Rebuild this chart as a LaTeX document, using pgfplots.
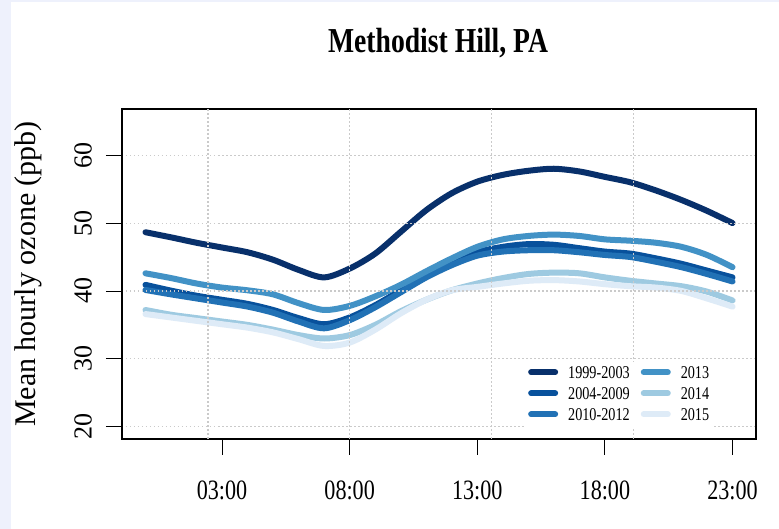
\documentclass[border=0pt]{standalone}
\usepackage{fontspec}
\setmainfont{Liberation Serif}
\newfontfamily\condserif{Liberation Serif}[FakeStretch=0.79]
\usepackage{pgfplots}
\usepackage{pgfplotstable}
\pgfplotsset{compat=1.18}
\definecolor{bgl}{HTML}{EEF1FC}
\definecolor{gridgray}{HTML}{CACACA}
\definecolor{ca}{HTML}{08306B}
\definecolor{cb}{HTML}{08519C}
\definecolor{cc}{HTML}{2171B5}
\definecolor{cd}{HTML}{4292C6}
\definecolor{ce}{HTML}{9ECAE1}
\definecolor{cf}{HTML}{DEEBF7}
\pgfplotstableread{
h a b c d e f
0 48.65 40.9 40.15 42.6 37.2 36.6
1 47.9 40.05 39.5 41.9 36.5 36.1
2 47.1 39.3 38.9 41.1 36.0 35.6
3 46.4 38.7 38.3 40.5 35.5 35.1
4 45.7 38.1 37.7 40.1 35.0 34.6
5 44.6 37.2 36.8 39.5 34.3 33.9
6 43.1 36.0 35.5 38.2 33.5 32.9
7 42.0 35.1 34.5 37.2 33.0 31.9
8 43.3 36.1 35.7 37.8 33.5 32.4
9 45.5 37.9 37.6 39.2 35.0 34.3
10 48.7 40.1 39.8 40.9 37.0 36.7
11 51.9 42.3 42.0 42.9 38.7 38.7
12 54.4 44.1 43.8 44.8 40.1 40.1
13 56.1 45.7 45.2 46.5 41.1 40.6
14 57.1 46.5 45.8 47.6 41.9 41.1
15 57.7 46.9 46.0 48.1 42.5 41.5
16 58.0 46.8 46.0 48.3 42.7 41.6
17 57.6 46.3 45.7 48.1 42.6 41.4
18 56.8 45.8 45.3 47.6 42.0 41.0
19 56.0 45.5 45.0 47.4 41.5 40.7
20 54.8 44.8 44.3 47.1 41.1 40.5
21 53.4 44.0 43.5 46.5 40.7 40.0
22 51.8 43.0 42.5 45.3 39.9 38.9
23 50.0 42.0 41.4 43.5 38.6 37.7
}\ozone
\begin{document}
\begin{tikzpicture}[x=1pt,y=1pt]
\fill[bgl] (-122,-90) rectangle (657,439);
\fill[white] (-111,-90) rectangle (657,437);
\node[anchor=base, font=\condserif\bfseries\fontsize{35}{40}\selectfont] at (316,386) {Methodist Hill, PA};
\begin{axis}[
  at={(0,0)}, anchor=south west,
  scale only axis, width=634pt, height=330pt,
  xmin=-0.92, xmax=23.92, ymin=18.2, ymax=66.8,
  axis on top,
  xtick={3,8,13,18,23},
  xticklabels={03:00,08:00,13:00,18:00,23:00},
  ytick={20,30,40,50,60},
  xtick pos=bottom, ytick pos=left,
  tick align=outside,
  major tick length=16pt,
  tick style={black, line width=0.9pt},
  axis line style={black, line width=1.2pt},
  ymajorgrids=true,
  major grid style={gridgray, line width=1.1pt, dash pattern=on 1.5pt off 2.5pt},
  extra x ticks={2.45,7.98,13.57,19.13},
  extra x tick labels={},
  extra x tick style={grid=major, major tick length=0pt},
  x tick label style={font=\condserif\fontsize{28}{30}\selectfont, anchor=north, inner sep=0pt},
  xticklabel shift=26pt,
  y tick label style={font=\fontsize{26}{28}\selectfont, rotate=90, anchor=south, inner sep=0pt},
  yticklabel shift=14pt,
  /pgf/number format/assume math mode=true,
  ylabel={Mean hourly ozone (ppb)},
  every axis y label/.style={at={(axis description cs:-0.148,0.5)}, rotate=90, anchor=center, font=\fontsize{30}{32}\selectfont},
  legend columns=3, transpose legend,
  legend style={at={(rel axis cs:0.634,0.233)}, anchor=north west, draw=none, fill=white,
    inner sep=4pt, row sep=6pt,
    font=\condserif\fontsize{18}{20}\selectfont,
    nodes={inner sep=0pt, text height=12pt, text depth=3pt, anchor=base west},
    /tikz/every odd column/.append style={column sep=10pt},
    /tikz/every even column/.append style={column sep=11pt}},
  legend image code/.code={\draw[#1, line width=6pt, line cap=round] (3pt,6pt) -- (27pt,6pt);},
  every axis plot/.append style={line width=6pt, line cap=round, line join=round, smooth, tension=0.5},
]
\addplot[ca] table[x=h, y=a] {\ozone};
\addlegendentry{1999-2003}
\addplot[cb] table[x=h, y=b] {\ozone};
\addlegendentry{2004-2009}
\addplot[cc] table[x=h, y=c] {\ozone};
\addlegendentry{2010-2012}
\addplot[cd] table[x=h, y=d] {\ozone};
\addlegendentry{2013}
\addplot[ce] table[x=h, y=e] {\ozone};
\addlegendentry{2014}
\addplot[cf] table[x=h, y=f] {\ozone};
\addlegendentry{2015}
\end{axis}
\pgfresetboundingbox
\useasboundingbox (-122,-90) rectangle (657,439);
\end{tikzpicture}
\end{document}
